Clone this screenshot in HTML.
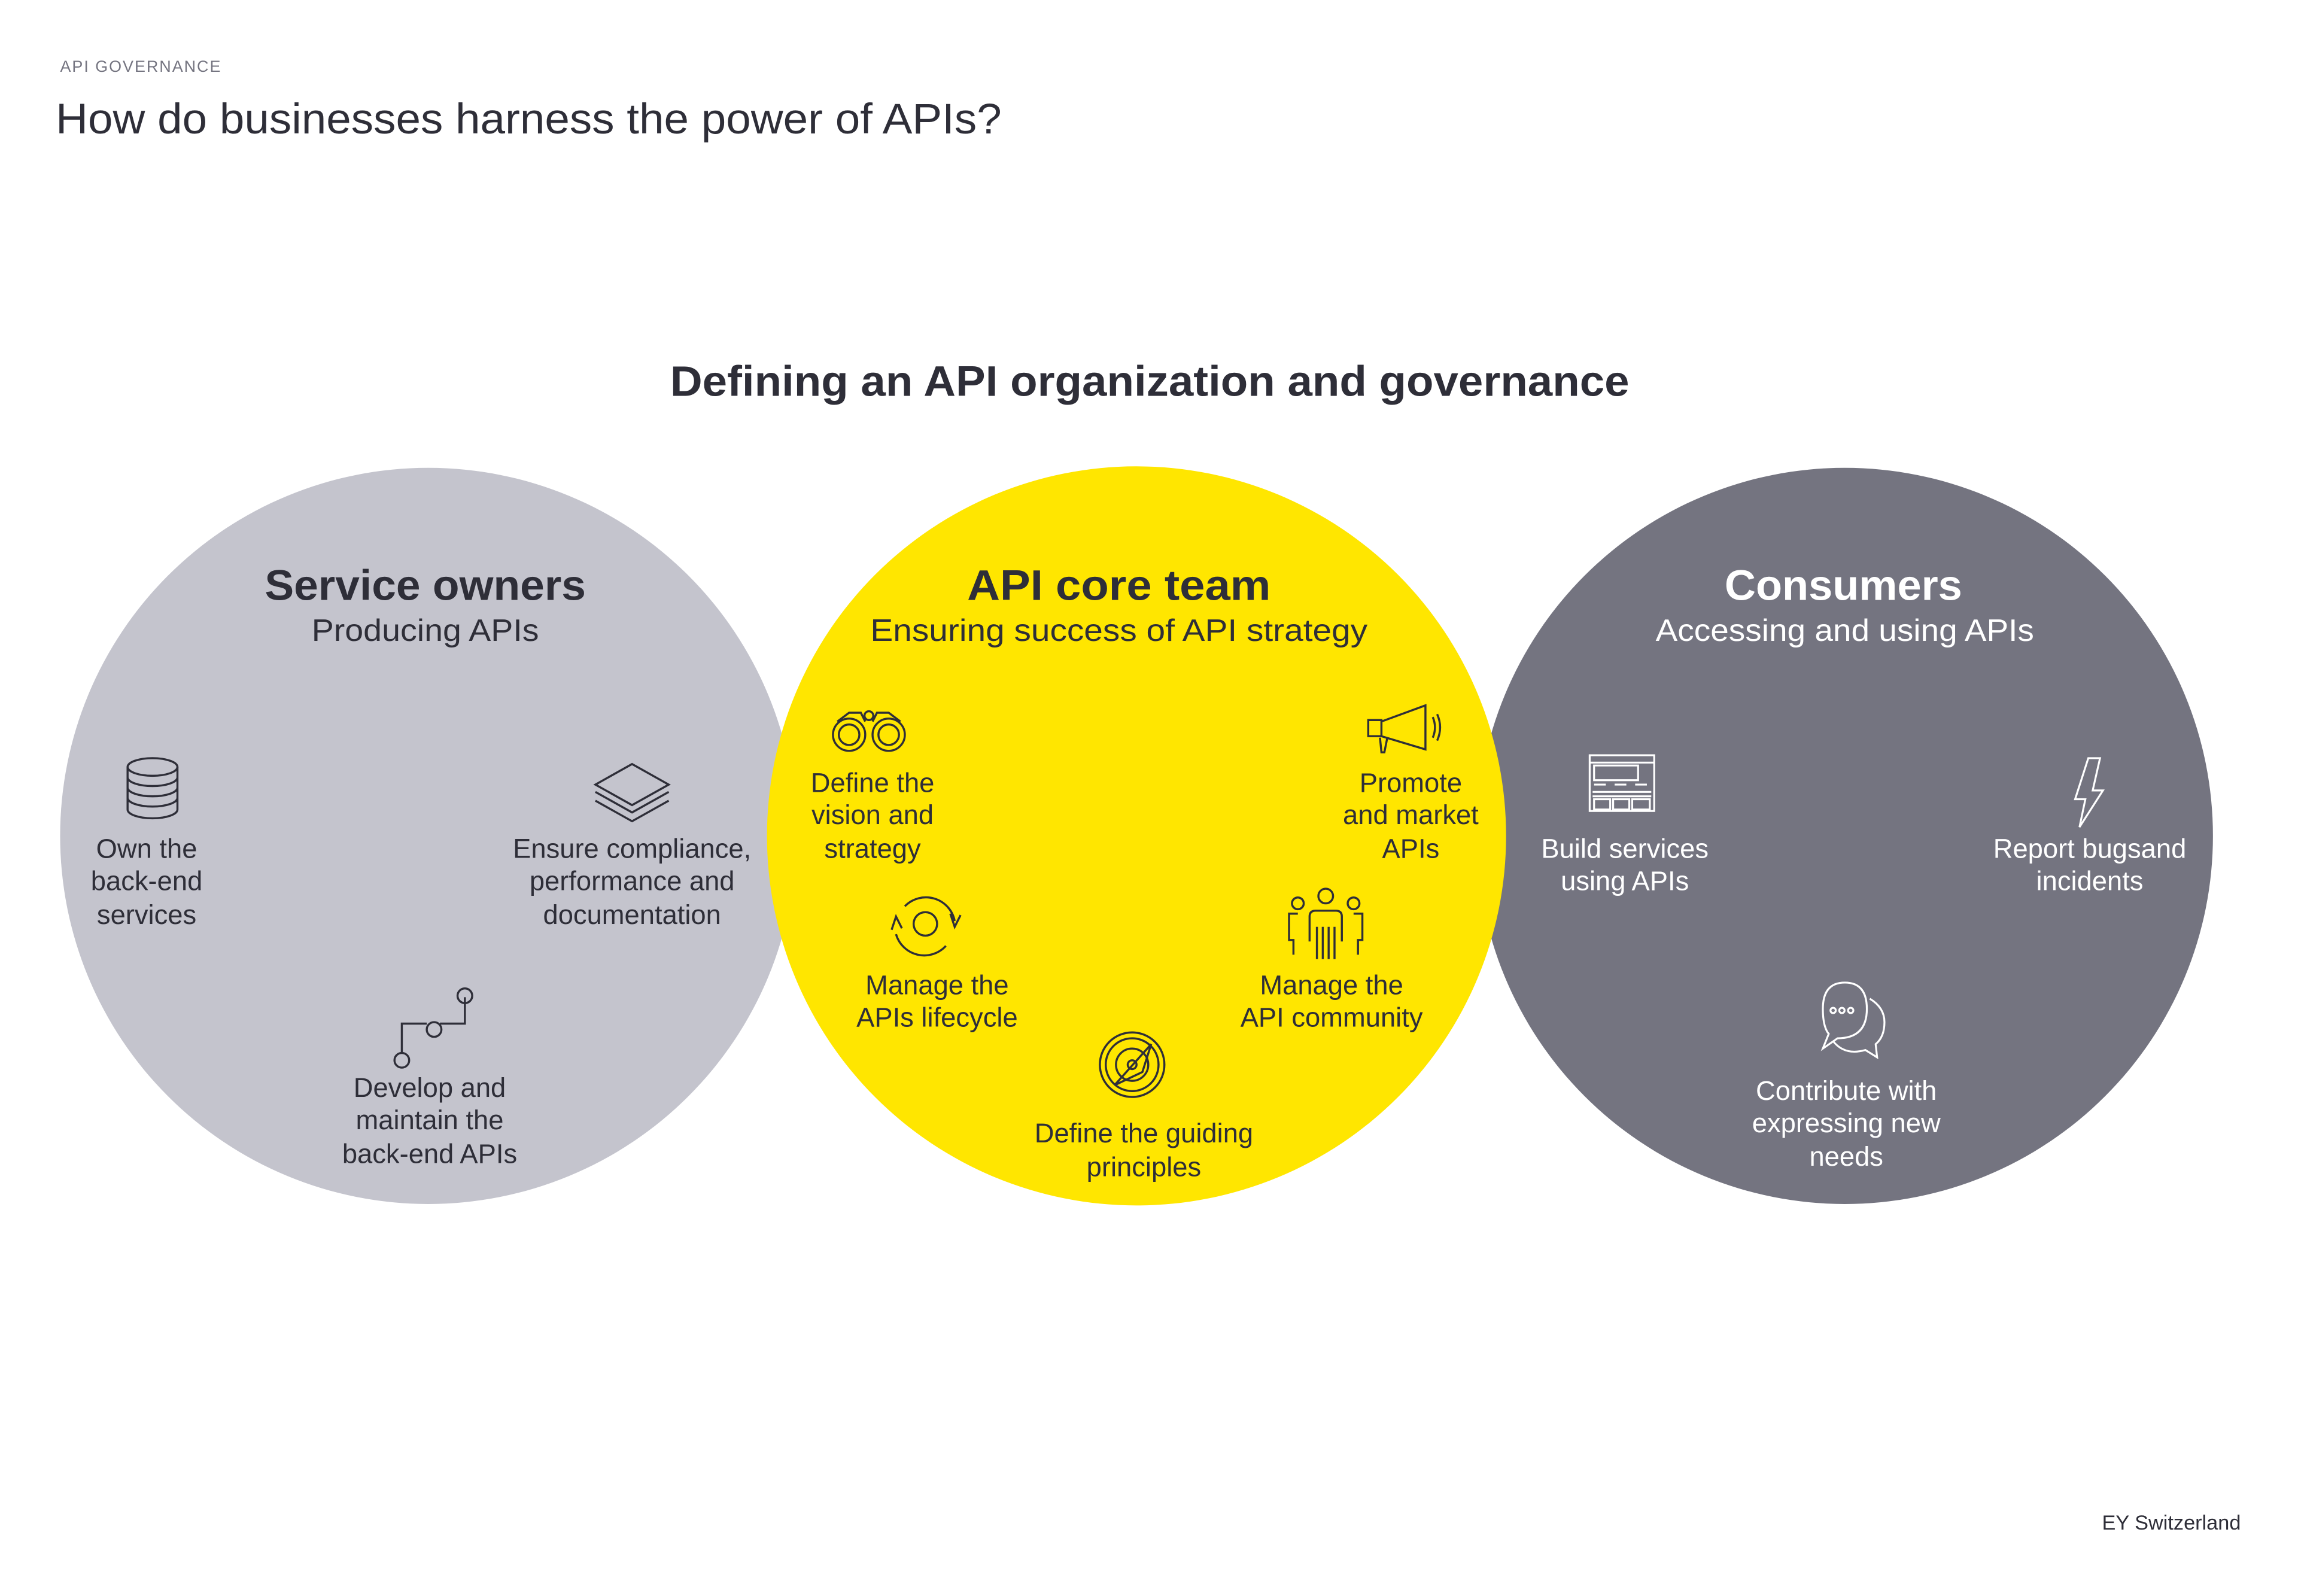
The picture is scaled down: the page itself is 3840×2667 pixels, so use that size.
<!DOCTYPE html>
<html><head><meta charset="utf-8"><style>
html,body{margin:0;padding:0;background:#fff;}
svg{display:block;}
text{font-family:"Liberation Sans",sans-serif;}
</style></head><body>
<svg width="3840" height="2667" viewBox="0 0 1567 1088.3" preserveAspectRatio="none" xmlns="http://www.w3.org/2000/svg">
<rect width="1567" height="1088.3" fill="#fff"/>
<text x="41" y="49" font-size="11" fill="#747480" letter-spacing="0.8">API GOVERNANCE</text>
<text x="38" y="91" font-size="29" fill="#2e2e38" textLength="645" lengthAdjust="spacingAndGlyphs">How do businesses harness the power of APIs?</text>
<text x="784" y="270" font-size="29" font-weight="bold" fill="#2e2e38" text-anchor="middle" textLength="654" lengthAdjust="spacingAndGlyphs">Defining an API organization and governance</text>

<circle cx="292" cy="570" r="251" fill="#c4c4cd"/>
<circle cx="1258" cy="570" r="251" fill="#747480"/>
<circle cx="775" cy="570" r="252" fill="#ffe600"/>

<g fill="#2e2e38" text-anchor="middle">
<text x="290" y="409" font-size="29" font-weight="bold" textLength="219" lengthAdjust="spacingAndGlyphs">Service owners</text>
<text x="290" y="437" font-size="21" textLength="155" lengthAdjust="spacingAndGlyphs">Producing APIs</text>
<text x="763" y="409" font-size="29" font-weight="bold" textLength="207" lengthAdjust="spacingAndGlyphs">API core team</text>
<text x="763" y="437" font-size="21" textLength="339" lengthAdjust="spacingAndGlyphs">Ensuring success of  API strategy</text>
<g font-size="18.5">
<text x="100" y="585">Own the</text><text x="100" y="607">back-end</text><text x="100" y="630">services</text>
<text x="431" y="585">Ensure compliance,</text><text x="431" y="607">performance and</text><text x="431" y="630">documentation</text>
<text x="293" y="748">Develop and</text><text x="293" y="770">maintain the</text><text x="293" y="793">back-end APIs</text>
<text x="595" y="540">Define the</text><text x="595" y="562">vision and</text><text x="595" y="585">strategy</text>
<text x="962" y="540">Promote</text><text x="962" y="562">and market</text><text x="962" y="585">APIs</text>
<text x="639" y="678">Manage the</text><text x="639" y="700">APIs lifecycle</text>
<text x="908" y="678">Manage the</text><text x="908" y="700">API community</text>
<text x="780" y="779">Define the guiding</text><text x="780" y="802">principles</text>
</g>
</g>
<g fill="#fff" text-anchor="middle">
<text x="1257" y="409" font-size="29" font-weight="bold" textLength="162" lengthAdjust="spacingAndGlyphs">Consumers</text>
<text x="1258" y="437" font-size="21" textLength="258" lengthAdjust="spacingAndGlyphs">Accessing and using APIs</text>
<g font-size="18.5">
<text x="1108" y="585">Build services</text><text x="1108" y="607">using APIs</text>
<text x="1425" y="585">Report bugsand</text><text x="1425" y="607">incidents</text>
<text x="1259" y="750">Contribute with</text><text x="1259" y="772">expressing new</text><text x="1259" y="795">needs</text>
</g>
</g>
<text x="1528" y="1043" font-size="14" fill="#2e2e38" text-anchor="end">EY Switzerland</text>

<!-- left icons -->
<g fill="none" stroke="#2e2e38" stroke-width="1.4">
<ellipse cx="104" cy="523" rx="17" ry="6"/>
<path d="M87 523v29M121 523v29M87 530a17 6 0 0 0 34 0M87 537a17 6 0 0 0 34 0M87 544a17 6 0 0 0 34 0M87 552a17 6 0 0 0 34 0"/>
<path d="M431 521l25 14-25 14-25-14z M406 540l25 14 25-14 M406 546l25 14 25-14"/>
<path d="M274 718v-20h17M300 698h17v-18"/>
<circle cx="274" cy="723" r="5"/><circle cx="296" cy="702" r="5"/><circle cx="317" cy="679" r="5"/>
</g>
<!-- middle icons -->
<g fill="none" stroke="#2e2e38" stroke-width="1.4">
<circle cx="579" cy="501" r="11"/><circle cx="579" cy="501" r="7"/>
<circle cx="606" cy="501" r="11"/><circle cx="606" cy="501" r="7"/>
<path d="M571 492l8-6h8l3 6M614 492l-8-6h-8l-3 6"/><circle cx="592.5" cy="488" r="3"/>
<path d="M933 491h9v11h-9z M942 492l30-11v30l-30-9 M946 503l-2 10h-2l-1-10 M977 489q3 7 0 14 M980 487q4 9 0 18"/>
<circle cx="631" cy="630" r="8"/>
<path d="M617 618a20 20 0 0 1 34 10 M645 645a20 20 0 0 1-34-8 M648 623l3 9 4-8 M608 634l3-9 4 8"/>
<circle cx="904" cy="611" r="5"/><circle cx="885" cy="616" r="4"/><circle cx="923" cy="616" r="4"/>
<path d="M893 642v-17q0-4 4-4h14q4 0 4 4v17 M898 632v22M902 632v22M906 632v22M910 632v22 M885 623h-6v18h3v10 M923 623h6v18h-3v10"/>
<circle cx="772" cy="726" r="22"/><circle cx="772" cy="726" r="18"/><circle cx="772" cy="726" r="11"/>
<path d="M760 740l25-28-6 19z"/><circle cx="772" cy="726" r="3"/>
</g>
<!-- right icons -->
<g fill="none" stroke="#fff" stroke-width="1.3">
<rect x="1084" y="515" width="44" height="38"/>
<path d="M1084 520h44M1087 522h30v10h-30z M1087 535h8M1101 535h8M1115 535h8 M1086 540h40M1086 543h40M1087 545h11v7h-11zM1100 545h11v7h-11zM1113 545h12v7h-12z"/>
<path d="M1424 517h8l-5 22h7l-16 25 4-19h-7z"/>
<path d="M1247 705l-4 10 10-7q20 0 20-20q0-18-15-18t-15 18q0 12 4 17z M1275 681q10 6 10 16t-6 15l1 9-8-5q-14 4-22-6"/>
<circle cx="1250" cy="689" r="1.8"/><circle cx="1256" cy="689" r="1.8"/><circle cx="1262" cy="689" r="1.8"/>
</g>
</svg>
</body></html>
